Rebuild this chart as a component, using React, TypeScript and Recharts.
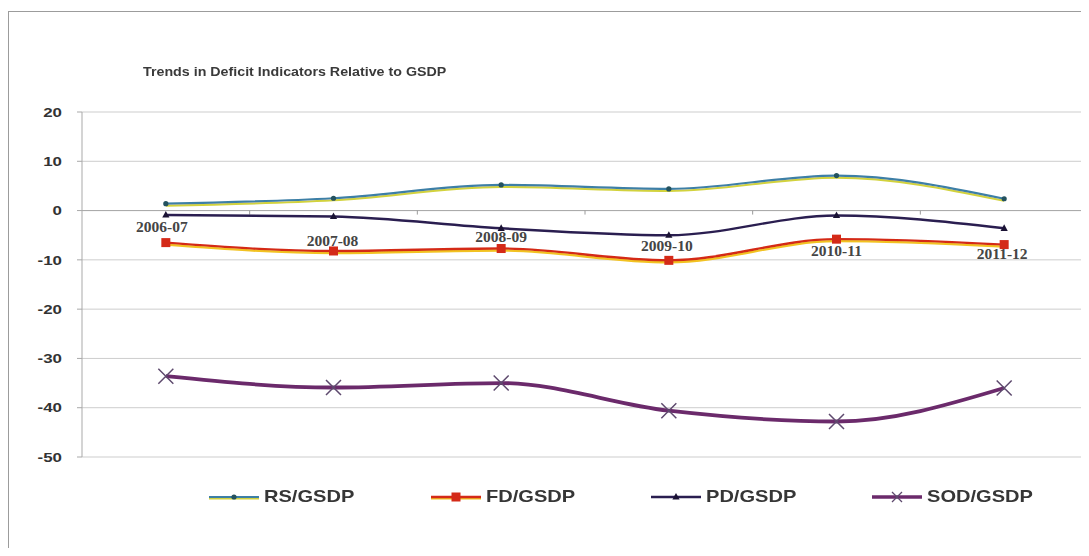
import React from 'react';
import { LineChart, Line, XAxis, YAxis, CartesianGrid, ReferenceLine } from 'recharts';

// Fiscal years on the category axis
const categories = ['2006-07', '2007-08', '2008-09', '2009-10', '2010-11', '2011-12'];

// Ratios to GSDP, per cent
const rsGsdp = [1.4, 2.5, 5.2, 4.4, 7.1, 2.4];
const fdGsdp = [-6.5, -8.2, -7.7, -10.1, -5.8, -6.9];
const pdGsdp = [-0.9, -1.2, -3.6, -5.0, -1.0, -3.6];
const sodGsdp = [-33.6, -35.9, -35.0, -40.6, -42.8, -36.0];

const yTicks = [20, 10, 0, -10, -20, -30, -40, -50];

const seriesNames = ['RS/GSDP', 'FD/GSDP', 'PD/GSDP', 'SOD/GSDP'];

const rows = categories.map((year, i) => ({
  year,
  rs: rsGsdp[i],
  fd: fdGsdp[i],
  pd: pdGsdp[i],
  sod: sodGsdp[i],
}));

// Year labels sit below the zero axis, each dropped by its own amount (px)
const yearLabelDrop = [21, 35, 31, 40, 45, 48];
const yearLabelShift = [-4, -1, 0, -2, 0, -2];

// Legend item left edges (px, inside the frame)
const legendLeft = [201, 423, 643, 864];

const COLORS = {
  rs: '#3d7fa6',
  rsDot: '#24525e',
  fd: '#d42a18',
  pd: '#2a1e50',
  pdDot: '#1a1234',
  sod: '#6b2a6b',
  sodDot: '#5e4a6e',
};

const RsDot = (p: any) => (
  <circle key={`rs-${p.index}`} cx={p.cx} cy={p.cy} r={2.6} fill={COLORS.rsDot} />
);
const FdDot = (p: any) => (
  <rect key={`fd-${p.index}`} x={p.cx - 4.5} y={p.cy - 4.5} width={9} height={9} fill={COLORS.fd} />
);
const PdDot = (p: any) => (
  <path
    key={`pd-${p.index}`}
    d={`M${p.cx},${p.cy - 4} L${p.cx + 3.6},${p.cy + 2.6} L${p.cx - 3.6},${p.cy + 2.6} Z`}
    fill={COLORS.pdDot}
  />
);
const SodDot = (p: any) => (
  <path
    key={`sod-${p.index}`}
    d={`M${p.cx - 7.5},${p.cy - 7.5} L${p.cx + 7.5},${p.cy + 7.5} M${p.cx + 7.5},${p.cy - 7.5} L${p.cx - 7.5},${p.cy + 7.5}`}
    stroke={COLORS.sodDot}
    strokeWidth={1.5}
    fill="none"
  />
);

// Zero line doubles as the category axis: line, boundary ticks and year labels
const ZeroAxis = (props: any) => {
  const { x1, x2, y1 } = props;
  const n = categories.length;
  const band = (x2 - x1) / n;
  return (
    <g>
      <line x1={x1} x2={x2} y1={y1} y2={y1} stroke="#a9a9a9" strokeWidth={1} />
      {categories.slice(1).map((_, i) => (
        <line
          key={`t${i}`}
          x1={x1 + band * (i + 1)}
          x2={x1 + band * (i + 1)}
          y1={y1}
          y2={y1 + 4}
          stroke="#9a9a9a"
          strokeWidth={1}
        />
      ))}
      {categories.map((c, i) => (
        <text
          key={c}
          x={x1 + band * (i + 0.5) + yearLabelShift[i]}
          y={y1 + yearLabelDrop[i]}
          textAnchor="middle"
          fontFamily="'Liberation Serif', 'Times New Roman', serif"
          fontWeight="bold"
          fontSize={15.5}
          fill="#454545"
        >
          {c}
        </text>
      ))}
    </g>
  );
};

const YTick = (p: any) => (
  <text
    transform={`translate(${p.x},${p.y}) scale(1.3,1)`}
    textAnchor="end"
    dominantBaseline="central"
    fontFamily="'Liberation Sans', Arial, sans-serif"
    fontWeight="bold"
    fontSize={13}
    fill="#333"
  >
    {p.payload.value}
  </text>
);

const LegendIcon = ({ k }: { k: string }) => {
  const w = 50;
  const cy = 6;
  const mid = w / 2;
  if (k === 'rs')
    return (
      <svg width={w} height={12} style={{ display: 'block' }}>
        <line x1={0} x2={w} y1={cy + 1.5} y2={cy + 1.5} stroke="#d0d040" strokeWidth={2} />
        <line x1={0} x2={w} y1={cy} y2={cy} stroke={COLORS.rs} strokeWidth={2.2} />
        <circle cx={mid} cy={cy} r={2.6} fill={COLORS.rsDot} />
      </svg>
    );
  if (k === 'fd')
    return (
      <svg width={w} height={12} style={{ display: 'block' }}>
        <line x1={0} x2={w} y1={cy + 1.5} y2={cy + 1.5} stroke="#f2c020" strokeWidth={2} />
        <line x1={0} x2={w} y1={cy} y2={cy} stroke={COLORS.fd} strokeWidth={2.4} />
        <rect x={mid - 4.5} y={cy - 4.5} width={9} height={9} fill={COLORS.fd} />
      </svg>
    );
  if (k === 'pd')
    return (
      <svg width={w} height={12} style={{ display: 'block' }}>
        <line x1={0} x2={w} y1={cy} y2={cy} stroke={COLORS.pd} strokeWidth={2.4} />
        <path d={`M${mid},${cy - 4} L${mid + 3.6},${cy + 2.6} L${mid - 3.6},${cy + 2.6} Z`} fill={COLORS.pdDot} />
      </svg>
    );
  return (
    <svg width={w} height={12} style={{ display: 'block' }}>
      <line x1={0} x2={w} y1={cy} y2={cy} stroke={COLORS.sod} strokeWidth={3.4} />
      <path
        d={`M${mid - 5},${cy - 5} L${mid + 5},${cy + 5} M${mid + 5},${cy - 5} L${mid - 5},${cy + 5}`}
        stroke={COLORS.sodDot}
        strokeWidth={1.3}
      />
    </svg>
  );
};

const legendKeys = ['rs', 'fd', 'pd', 'sod'];

export default function App() {
  return (
    <div style={{ position: 'relative', width: 1081, height: 540 }}>
      <style>{`
        body { overflow: hidden; }
        .rs-line path.recharts-line-curve { filter: url(#rsEdge); }
        .fd-line path.recharts-line-curve { filter: url(#fdEdge); }
      `}</style>
      <svg width={0} height={0} style={{ position: 'absolute' }}>
        <defs>
          <filter id="rsEdge" filterUnits="userSpaceOnUse" x={0} y={0} width={1200} height={600}>
            <feOffset in="SourceAlpha" dy={1.6} result="off" />
            <feFlood floodColor="#d2d23c" />
            <feComposite in2="off" operator="in" result="shade" />
            <feMerge>
              <feMergeNode in="shade" />
              <feMergeNode in="SourceGraphic" />
            </feMerge>
          </filter>
          <filter id="fdEdge" filterUnits="userSpaceOnUse" x={0} y={0} width={1200} height={600}>
            <feOffset in="SourceAlpha" dy={1.6} result="off" />
            <feFlood floodColor="#f2c220" />
            <feComposite in2="off" operator="in" result="shade" />
            <feMerge>
              <feMergeNode in="shade" />
              <feMergeNode in="SourceGraphic" />
            </feMerge>
          </filter>
        </defs>
      </svg>

      {/* frame */}
      <div
        style={{
          position: 'absolute',
          left: -1,
          top: 3,
          width: 1090,
          height: 600,
          borderTop: '1.5px solid #9c9c9c',
          borderLeft: '2px solid #9c9c9c',
        }}
      />

      {/* title */}
      <div
        style={{
          position: 'absolute',
          left: 135,
          top: 56,
          fontFamily: "'Liberation Sans', Arial, sans-serif",
          fontWeight: 'bold',
          fontSize: 12.5,
          lineHeight: '16px',
          color: '#3a3a3a',
          whiteSpace: 'nowrap',
          transform: 'scaleX(1.14)',
          transformOrigin: 'left center',
        }}
      >
        Trends in Deficit Indicators Relative to GSDP
      </div>

      <div style={{ position: 'absolute', left: 0, top: 0 }}>
        <LineChart width={1081} height={540} data={rows} margin={{ top: 104, right: 1, bottom: 91, left: 0 }}>
          <CartesianGrid vertical={false} stroke="#cdcdcd" strokeWidth={1} />
          <XAxis dataKey="year" scale="band" hide />
          <YAxis
            width={74}
            domain={[-50, 20]}
            ticks={yTicks}
            interval={0}
            tickSize={5}
            tickMargin={15}
            axisLine={{ stroke: '#a9a9a9' }}
            tickLine={{ stroke: '#a9a9a9' }}
            tick={<YTick />}
          />
          <ReferenceLine y={0} shape={<ZeroAxis />} />
          <Line
            className="rs-line"
            type="monotone"
            dataKey="rs"
            name={seriesNames[0]}
            stroke={COLORS.rs}
            strokeWidth={2.2}
            dot={RsDot}
            isAnimationActive={false}
          />
          <Line
            className="fd-line"
            type="monotone"
            dataKey="fd"
            name={seriesNames[1]}
            stroke={COLORS.fd}
            strokeWidth={2.4}
            dot={FdDot}
            isAnimationActive={false}
          />
          <Line
            type="monotone"
            dataKey="pd"
            name={seriesNames[2]}
            stroke={COLORS.pd}
            strokeWidth={2.4}
            dot={PdDot}
            isAnimationActive={false}
          />
          <Line
            type="monotone"
            dataKey="sod"
            name={seriesNames[3]}
            stroke={COLORS.sod}
            strokeWidth={3.8}
            dot={SodDot}
            isAnimationActive={false}
          />
        </LineChart>
      </div>

      {/* legend */}
      {legendKeys.map((k, i) => (
        <div
          key={k}
          style={{
            position: 'absolute',
            left: legendLeft[i],
            top: 481,
            display: 'flex',
            alignItems: 'center',
            height: 16,
          }}
        >
          <LegendIcon k={k} />
          <span
            style={{
              marginLeft: 5,
              fontFamily: "'Liberation Sans', Arial, sans-serif",
              fontWeight: 'bold',
              fontSize: 17,
              lineHeight: '16px',
              color: '#363636',
              whiteSpace: 'nowrap',
              display: 'inline-block',
              transform: 'scaleX(1.18)',
              transformOrigin: 'left center',
            }}
          >
            {seriesNames[i]}
          </span>
        </div>
      ))}
    </div>
  );
}
